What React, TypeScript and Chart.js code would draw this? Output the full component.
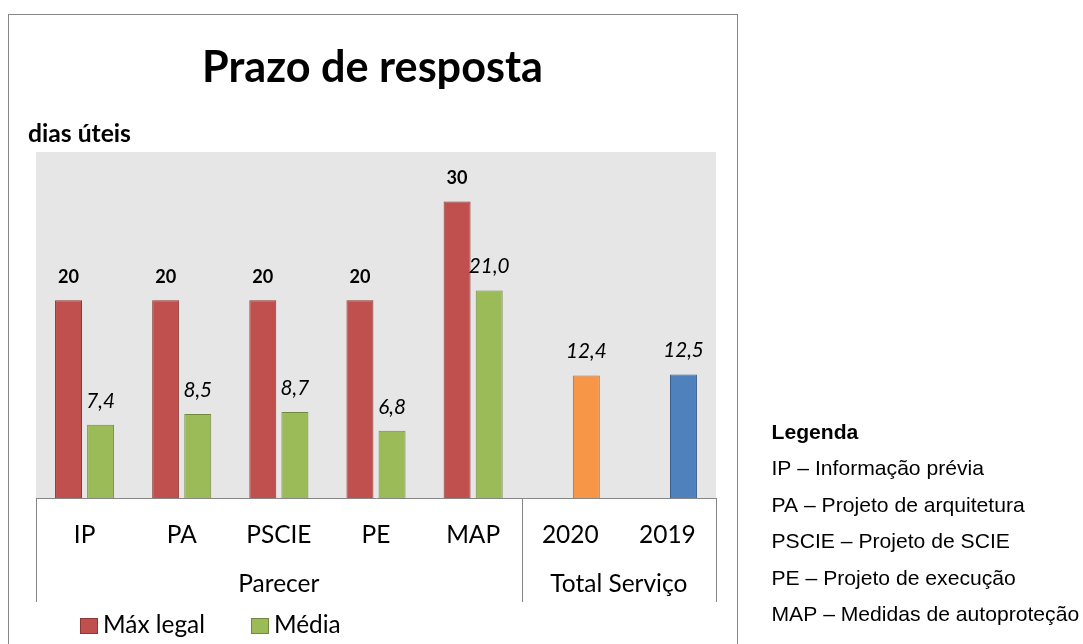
import React, { useEffect, useRef } from "react";
import { Chart, registerables } from "chart.js";

Chart.register(...registerables);

// ---- data ----
const categories = ["IP", "PA", "PSCIE", "PE", "MAP", "2020", "2019"];
const maxLegalValues: (number | null)[] = [20, 20, 20, 20, 30, null, null];
const mediaValues: number[] = [7.4, 8.5, 8.7, 6.8, 21.0, 12.4, 12.5];
const groupLabels = ["Parecer", "Total Serviço"];
const groupSizes = [5, 2];
const seriesNames = ["Máx legal", "Média"];
const chartTitle = "Prazo de resposta";
const unitLabel = "dias úteis";
const legendHeading = "Legenda";
const legendLines = [
  "IP – Informação prévia",
  "PA – Projeto de arquitetura",
  "PSCIE – Projeto de SCIE",
  "PE – Projeto de execução",
  "MAP – Medidas de autoproteção",
];

// ---- styles ----
const RED = "#C0504D";
const RED_B = "#8C3836";
const GREEN = "#9BBB59";
const GREEN_B = "#71893F";
const ORANGE = "#F79646";
const ORANGE_B = "#B66D31";
const BLUE = "#4F81BD";
const BLUE_B = "#385D8A";
const mediaFill = [GREEN, GREEN, GREEN, GREEN, GREEN, ORANGE, BLUE];
const mediaBorder = [GREEN_B, GREEN_B, GREEN_B, GREEN_B, GREEN_B, ORANGE_B, BLUE_B];
const FRAME = "#868686";
const SANS = "Lato, 'Open Sans', sans-serif";
const ARIAL = "'Liberation Sans', Arial, sans-serif";

function fitSize(text: string, font: string, target: number): number {
  const c = document.createElement("canvas").getContext("2d")!;
  c.font = font.replace("SIZE", "100px");
  return (100 * target) / c.measureText(text).width;
}

function middleOffset(font: string): number {
  const c = document.createElement("canvas").getContext("2d")!;
  c.font = font;
  c.textBaseline = "middle";
  return c.measureText("H").actualBoundingBoxDescent;
}

export default function App() {
  const ref = useRef<HTMLCanvasElement | null>(null);

  useEffect(() => {
    const canvas = ref.current;
    if (!canvas) return;

    const titleSize = fitSize(chartTitle, `bold SIZE ${SANS}`, 341);
    const unitSize = fitSize(unitLabel, `bold SIZE ${SANS}`, 103);
    const tickSize = fitSize("Total Serviço", `SIZE ${SANS}`, 137);
    const legSize = fitSize(seriesNames[0], `SIZE ${SANS}`, 102);
    const boldLblSize = fitSize("20", `bold SIZE ${SANS}`, 21);
    const italLblSize = fitSize("21,0", `italic SIZE ${SANS}`, 40.7);
    const rightSize = fitSize(legendLines[4], `SIZE ${ARIAL}`, 308);

    const tickLineH = tickSize * 1.2;
    const tickOff = middleOffset(`${tickSize}px ${SANS}`);
    const axisBottom = 498;
    const tickPadding = 542.7 - tickOff - axisBottom - tickLineH / 2;

    const decor = {
      id: "decor",
      beforeDraw(chart: any) {
        const { ctx, chartArea: a } = chart;
        ctx.save();
        ctx.fillStyle = "#ffffff";
        ctx.fillRect(0, 0, chart.width, chart.height);
        ctx.fillStyle = "#E6E6E6";
        ctx.fillRect(a.left, a.top, a.right - a.left, a.bottom - a.top);
        ctx.strokeStyle = FRAME;
        ctx.lineWidth = 1;
        ctx.strokeRect(8.5, 14.5, 729, 700);
        ctx.restore();
      },
      afterDatasetsDraw(chart: any) {
        const { ctx } = chart;
        ctx.save();
        ctx.fillStyle = "#000";
        ctx.textAlign = "center";
        ctx.textBaseline = "alphabetic";
        chart.data.datasets.forEach((ds: any, i: number) => {
          const meta = chart.getDatasetMeta(i);
          meta.data.forEach((el: any, j: number) => {
            const v = ds.data[j];
            if (v == null) return;
            if (i === 0) {
              ctx.font = `bold ${boldLblSize}px ${SANS}`;
              ctx.fillText(String(v), el.x, el.y - 17);
            } else {
              ctx.font = `italic ${italLblSize}px ${SANS}`;
              ctx.fillText(v.toFixed(1).replace(".", ","), el.x, el.y - 17);
            }
          });
        });
        ctx.restore();
      },
      afterDraw(chart: any) {
        const { ctx, chartArea: a } = chart;
        const n = chart.data.labels.length;
        const w = (a.right - a.left) / n;
        ctx.save();
        // group separators
        ctx.strokeStyle = FRAME;
        ctx.lineWidth = 1;
        let start = 0;
        const bounds = [0];
        groupSizes.forEach((s) => {
          start += s;
          bounds.push(start);
        });
        bounds.forEach((k) => {
          const x = Math.round(a.left + k * w) + 0.5;
          ctx.beginPath();
          ctx.moveTo(x, a.bottom);
          ctx.lineTo(x, 602);
          ctx.stroke();
        });
        // group labels
        ctx.fillStyle = "#000";
        ctx.textAlign = "center";
        ctx.textBaseline = "alphabetic";
        ctx.font = `${tickSize}px ${SANS}`;
        let s0 = 0;
        groupLabels.forEach((g, i) => {
          const cx = a.left + (s0 + groupSizes[i] / 2) * w;
          ctx.fillText(g, cx, 592.3);
          s0 += groupSizes[i];
        });
        // title
        ctx.font = `bold ${titleSize}px ${SANS}`;
        ctx.fillText(chartTitle, 372.5, 81.7);
        // unit label
        ctx.textAlign = "left";
        ctx.font = `bold ${unitSize}px ${SANS}`;
        ctx.fillText(unitLabel, 28, 141.5);
        // bottom legend
        const items = [
          { x: 80, fill: RED, border: RED_B, text: seriesNames[0] },
          { x: 251, fill: GREEN, border: GREEN_B, text: seriesNames[1] },
        ];
        ctx.font = `${legSize}px ${SANS}`;
        items.forEach((it) => {
          ctx.fillStyle = it.fill;
          ctx.fillRect(it.x, 618, 17, 15);
          ctx.strokeStyle = it.border;
          ctx.strokeRect(it.x + 0.5, 618.5, 17, 15);
          ctx.fillStyle = "#000";
          ctx.fillText(it.text, it.x + 23, 633);
        });
        // right-hand legend
        ctx.font = `bold ${rightSize}px ${ARIAL}`;
        ctx.fillText(legendHeading, 771.5, 438.5);
        ctx.font = `${rightSize}px ${ARIAL}`;
        legendLines.forEach((t, i) => {
          ctx.fillText(t, 771.5, 475 + i * 36.5);
        });
        ctx.restore();
      },
    };

    const chart = new Chart(canvas, {
      type: "bar",
      data: {
        labels: categories,
        datasets: [
          {
            label: seriesNames[0],
            data: maxLegalValues,
            backgroundColor: RED,
            borderColor: RED_B,
            borderWidth: 1,
            categoryPercentage: 0.661,
            barPercentage: 0.84,
          },
          {
            label: seriesNames[1],
            data: mediaValues,
            backgroundColor: mediaFill,
            borderColor: mediaBorder,
            borderWidth: 1,
            categoryPercentage: 0.661,
            barPercentage: 0.84,
          },
        ],
      },
      options: {
        responsive: false,
        animation: false,
        devicePixelRatio: 1,
        layout: { padding: { left: 36, right: 367, top: 152, bottom: 0 } },
        plugins: {
          legend: { display: false },
          tooltip: { enabled: false },
          title: { display: false },
        },
        scales: {
          x: {
            grid: { display: false, drawTicks: false },
            border: { display: true, color: FRAME, width: 1 },
            ticks: {
              color: "#000",
              padding: tickPadding,
              font: { family: SANS, size: tickSize, lineHeight: 1.2 },
              maxRotation: 0,
              autoSkip: false,
            },
            afterFit: (scale: any) => {
              scale.height = 644 - axisBottom;
            },
          },
          y: { display: false, min: 0, max: 35 },
        },
      },
      plugins: [decor],
    });
    return () => chart.destroy();
  }, []);

  return (
    <div style={{ position: "absolute", left: 0, top: 0, width: 1083, height: 644, background: "#fff" }}>
      <canvas ref={ref} width={1083} height={644} style={{ display: "block", width: 1083, height: 644 }} />
    </div>
  );
}
